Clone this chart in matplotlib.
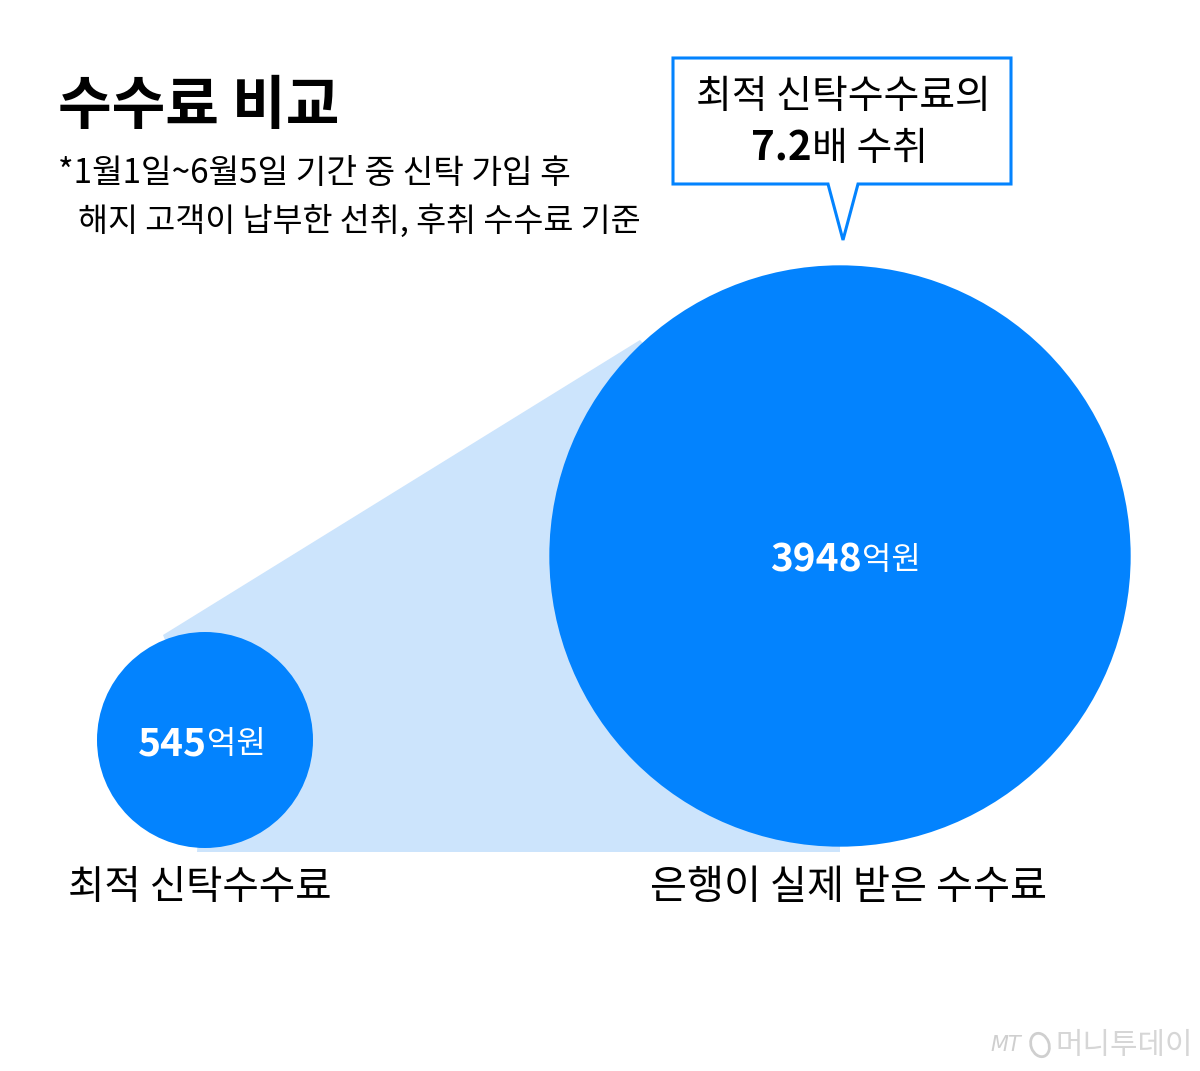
import matplotlib
matplotlib.use("Agg")
from matplotlib import pyplot as plt
from matplotlib.patches import Circle, Polygon, Ellipse
import numpy as np

plt.rcParams['font.family'] = ['Noto Sans CJK KR', 'DejaVu Sans']

# data
labels = ['최적 신탁수수료', '은행이 실제 받은 수수료']
values = [545, 3948]          # 억원
unit = '억원'
ratio_txt = '7.2'

title = '수수료 비교'
note1 = '*1월1일~6월5일 기간 중 신탁 가입 후'
note2 = '해지 고객이 납부한 선취, 후취 수수료 기준'

blue = '#0383fe'
light = '#cce4fc'

fig = plt.figure(figsize=(12, 10.71), dpi=100)
ax = fig.add_axes([0, 0, 1, 1])
ax.set_xlim(0, 1200)
ax.set_ylim(1071, 0)
ax.set_aspect('equal')
ax.axis('off')

# circles sized by area
k = 108 / np.sqrt(values[0])
radii = [k * np.sqrt(v) for v in values]
centers = [(205, 740), (840, 556)]

# light connector behind the circles
(cx0, cy0), (cx1, cy1) = centers
base = 852
conn = Polygon([(163, 635), (640, 340), (cx1, cy1), (cx1, base), (197, base), (cx0, cy0)],
               closed=True, fc=light, ec='none', zorder=1)
ax.add_patch(conn)

for (cx, cy), r in zip(centers, radii):
    ax.add_patch(Circle((cx, cy), r, fc=blue, ec='none', zorder=2))

# value labels inside circles: bold number + regular unit
splits = [207, 862]
for (cx, cy), v, sx in zip(centers, values, splits):
    ax.text(sx, cy + 4, str(v), color='white', fontsize=28, fontweight='bold',
            ha='right', va='center', zorder=3)
    ax.text(sx, cy + 4, unit, color='white', fontsize=23,
            ha='left', va='center', zorder=3)

# bottom labels
ax.text(200, 888, labels[0], fontsize=28.5, ha='center', va='center', color='black')
ax.text(848, 888, labels[1], fontsize=29, ha='center', va='center', color='black')

# title and note
ax.text(58, 107, title, fontsize=42, fontweight='bold', ha='left', va='center')
ax.text(58, 173, note1, fontsize=24, ha='left', va='center')
ax.text(78, 221, note2, fontsize=23.5, ha='left', va='center')

# callout box
box = Polygon([(673, 58), (1011, 58), (1011, 184), (858, 184), (843, 240),
               (828, 184), (673, 184)], closed=True, fc='white', ec=blue, lw=2.2, zorder=4)
ax.add_patch(box)
ax.text(843, 97, '최적 신탁수수료의', fontsize=28, ha='center', va='center', zorder=5)
ax.text(812, 149, ratio_txt, fontsize=29, fontweight='bold', ha='right', va='center', zorder=5)
ax.text(812, 149, '배 수취', fontsize=28, ha='left', va='center', zorder=5)

# watermark
ax.text(990, 1045, 'MT', fontsize=15, style='italic', color='#cfcfcf',
        ha='left', va='center', family='DejaVu Sans')
ax.add_patch(Ellipse((1040, 1045), 18, 24, angle=-20, fc='none', ec='#cfcfcf', lw=2))
ax.text(1055, 1045, '머니투데이', fontsize=21.5, color='#d6d6d6', ha='left', va='center')

fig.savefig('out.png', dpi=100, facecolor='white')
